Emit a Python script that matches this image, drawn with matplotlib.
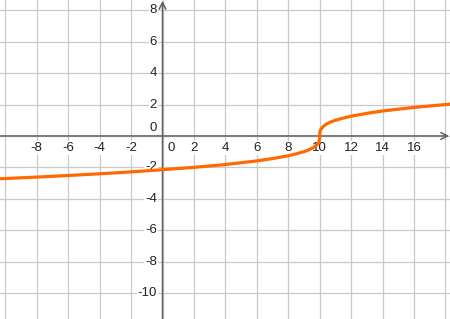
import matplotlib
matplotlib.use("Agg")
import matplotlib.pyplot as plt

# точки кривой
curve_x = [-10.4, -8, -6, -4, -2, 0, 2, 4, 6, 7, 8, 8.5, 9, 9.3, 9.6, 9.8, 9.9,
           9.95, 9.98, 9.995, 10, 10.005, 10.02, 10.05, 10.1, 10.2, 10.4, 10.7,
           11, 11.5, 12, 13, 14, 16, 18, 18.4]
curve_y = [-2.73, -2.62, -2.52, -2.41, -2.29, -2.15, -2.0, -1.82, -1.59, -1.44,
           -1.26, -1.14, -1.0, -0.89, -0.74, -0.58, -0.46, -0.37, -0.27, -0.17,
           0.0, 0.17, 0.27, 0.37, 0.46, 0.58, 0.74, 0.89, 1.0, 1.14, 1.26, 1.44,
           1.59, 1.82, 2.0, 2.03]

x_ticks = [-8, -6, -4, -2, 0, 2, 4, 6, 8, 10, 12, 14, 16]
y_ticks = [8, 6, 4, 2, 0, -2, -4, -6, -8, -10]
x_grid = list(range(-10, 20, 2))
y_grid = list(range(-10, 10, 2))

xmin, xmax = -10.34, 18.29
ymin, ymax = -11.66, 8.66

plt.rcParams['font.family'] = ['Liberation Sans', 'DejaVu Sans']

fig = plt.figure(figsize=(4.5, 3.19), dpi=100)
ax = fig.add_axes([0, 0, 1, 1])
ax.set_xlim(xmin, xmax)
ax.set_ylim(ymin, ymax)
ax.axis('off')

# сетка
for gx in x_grid:
    ax.axvline(gx, color='#c8c8c8', lw=0.9, zorder=1)
for gy in y_grid:
    ax.axhline(gy, color='#c8c8c8', lw=0.9, zorder=1)

# оси со стрелками
axis_col = '#606060'
ax.annotate('', xy=(xmax - 0.05, 0), xytext=(xmin, 0),
            arrowprops=dict(arrowstyle='->', color=axis_col, lw=1.1,
                            mutation_scale=12, shrinkA=0, shrinkB=0), zorder=2)
ax.annotate('', xy=(0, ymax - 0.05), xytext=(0, ymin),
            arrowprops=dict(arrowstyle='->', color=axis_col, lw=1.1,
                            mutation_scale=12, shrinkA=0, shrinkB=0), zorder=2)

box = dict(facecolor='white', edgecolor='none', pad=0.6)
fs = 9.5
col = '#222222'

for v in x_ticks:
    if v == 0:
        ax.text(0.3, -0.4, '0', ha='left', va='top', fontsize=fs,
                color=col, bbox=box, zorder=3)
    else:
        ax.text(v, -0.4, str(v), ha='center', va='top', fontsize=fs,
                color=col, bbox=box, zorder=3)

for v in y_ticks:
    if v == 0:
        ax.text(-0.35, 0.1, '0', ha='right', va='bottom', fontsize=fs,
                color=col, bbox=box, zorder=3)
    else:
        ax.text(-0.35, v, str(v), ha='right', va='center', fontsize=fs,
                color=col, bbox=box, zorder=3)

ax.plot(curve_x, curve_y, color='#ff6a00', lw=2.3, solid_capstyle='round',
        zorder=4)

fig.savefig('out.png', dpi=100)
